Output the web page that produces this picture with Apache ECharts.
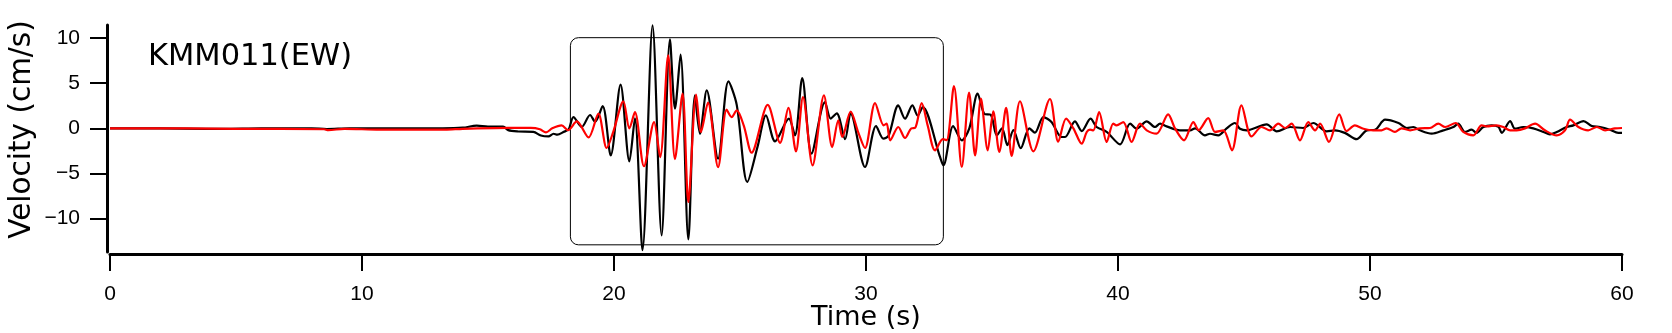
<!DOCTYPE html>
<html><head><meta charset="utf-8">
<script src="https://cdn.jsdelivr.net/npm/echarts@6/dist/echarts.min.js"></script>
<style>html,body{margin:0;padding:0;background:#fff}#c{width:1672px;height:333px}</style>
</head><body><div id="c"></div>
<script>
const titleText = 'KMM011(EW)';
const xTicks = [0, 10, 20, 30, 40, 50, 60];
const yTicks = [-10, -5, 0, 5, 10];
const boxTime = [18.25, 33.05];
const boxVel = [-12.85, 10.1];

const blackTime = [0,2,3.8,4.5,6,8,8.6,9.5,10.7,13.2,14,14.55,15,15.6,15.8,16.2,16.8,17.1,17.4,17.6,17.75,18.0,18.2,18.39,18.72,19.05,19.25,19.55,19.87,20.26,20.61,20.83,21.13,21.53,21.89,22.22,22.42,22.64,22.95,23.21,23.41,23.68,24.13,24.54,24.87,25.29,25.7,26.03,26.39,26.94,27.18,27.47,27.84,28.37,28.6,28.84,29.17,29.39,29.96,30.4,30.69,30.9,31.28,31.55,31.84,32.05,32.25,32.94,33.07,33.46,33.8,34.1,34.43,34.7,34.95,35.19,35.4,35.61,35.85,36.14,36.48,36.7,37.04,37.36,37.76,37.9,38.29,38.56,38.91,39.15,39.55,40.08,40.48,40.74,41.14,41.47,41.67,41.93,42.46,42.86,43.06,43.45,43.65,43.98,44.31,44.64,44.84,45.11,45.9,46.3,46.83,47.35,47.75,48.28,48.61,49.0,49.47,49.87,50.2,50.6,51.13,51.46,51.72,51.98,52.45,52.91,53.31,53.5,53.77,54.03,54.23,54.5,54.83,55.1,55.23,55.56,55.75,56.08,56.48,56.88,57.14,57.41,57.8,58.07,58.47,58.8,59.13,59.52,59.85,60];
const blackVel = [0,0,-0.05,-0.05,0,0,-0.08,0,0,0,0.07,0.3,0.2,0.2,-0.2,-0.35,-0.4,-0.8,-0.9,-0.6,-0.7,-0.4,-0.1,1.25,0.15,1.48,0.72,2.47,-3.0,4.84,-3.67,1.1,-13.5,11.4,-11.85,9.85,2.18,8.16,-12.3,3.65,-0.59,4.2,-3.36,5.2,2.6,-5.94,-2.0,1.44,-1.44,1.07,-0.78,5.57,-2.8,2.9,1.08,1.66,-1.2,1.66,-4.28,0.26,-1.14,-0.8,2.55,1.07,2.55,1.4,2.36,-3.2,-4.1,0.26,-1.33,0,3.84,1.6,1.5,-0.78,0,-1.85,-0.2,-2.2,0,-0.48,1.25,0.7,-0.96,-0.96,0.78,-0.3,1.07,0.15,-0.4,-1.77,0.52,-0.04,0.78,0.15,0.52,0.22,-0.22,-0.22,0,-0.78,-0.6,-0.78,0,0.59,-0.04,-0.22,0.44,-0.33,0.15,0.04,0.59,-0.33,-0.22,-0.5,-1.2,-0.22,-0.15,0.96,0.59,0.04,0.15,-0.22,-0.59,-0.22,0.15,0.52,-0.4,-0.15,-0.5,0.15,0.33,0.15,-0.5,0.81,-0.04,0.15,0,-0.4,-0.66,-0.4,0.15,0.33,0.81,0.26,0.15,-0.15,-0.5,-0.5];

const redTime = [0,3,5,8.5,8.66,9.3,10.7,13.3,14,15.8,16.7,17.06,17.3,17.55,17.92,18.18,18.52,18.99,19.38,19.71,19.97,20.37,20.61,20.83,21.19,21.59,21.83,22.15,22.42,22.72,22.95,23.26,23.45,23.73,24.13,24.47,24.67,24.87,25.15,25.46,26.1,26.59,26.92,27.22,27.5,27.88,28.33,28.66,28.9,29.06,29.39,29.7,29.96,30.36,30.7,30.82,30.96,31.28,31.55,31.8,31.95,32.21,32.45,32.74,33.05,33.2,33.49,33.8,34.09,34.33,34.56,34.83,35.05,35.29,35.56,35.78,36.11,36.64,37.3,37.63,37.94,38.23,38.56,38.76,38.89,39.02,39.25,39.55,39.81,39.94,40.21,40.54,40.87,41.14,41.53,41.99,42.26,42.62,42.99,43.2,43.58,43.85,44.18,44.52,44.9,45.3,45.7,46.03,46.36,46.63,46.89,47.22,47.55,47.82,48.02,48.37,48.78,49.07,49.4,49.74,50.13,50.46,50.66,50.99,51.25,51.59,51.98,52.38,52.71,52.98,53.4,53.7,54.1,54.43,54.63,55.02,55.29,55.56,55.82,56.15,56.55,56.94,57.41,57.74,57.94,58.27,58.66,59.0,59.33,59.72,60];
const redVel = [0,0,-0.05,-0.1,-0.2,-0.05,-0.15,-0.15,-0.05,0.05,0.05,-0.1,-0.45,0,0.33,-0.2,0.77,-1.0,1.63,-2.18,-0.4,2.99,0.0,1.8,-4.2,0.7,-3.2,8.08,-3.4,3.85,-8.16,3.73,-0.4,2.85,-4.3,2.07,1.25,2.0,0.3,-2.7,2.6,-1.6,2.26,-2.55,3.47,-4.1,3.65,-2.07,0.89,-0.96,1.85,-0.5,-2.18,2.8,0.33,0.52,-1.33,0.15,-1.07,0,0.05,2.8,0.3,-2.44,-1.2,-1.3,4.69,-4.28,3.96,-3.0,3.29,-2.44,1.88,-2.6,2.26,-3.06,3.0,-2.55,3.25,-1.48,1.07,0,-1.7,-0.4,-0.15,-0.22,1.8,-1.51,0.52,0.33,0.7,-1.5,0.52,-0.22,-0.59,1.55,0,-1.33,0.7,-0.2,1.14,-0.4,-0.22,-2.44,2.55,-0.9,0.15,-0.22,0.52,0.04,0.52,-1.33,0.7,-0.22,0.52,-1.5,1.55,-0.3,0.33,-0.04,-0.22,-0.22,0,-0.4,0,-0.22,0,0.04,0.52,0.15,0.59,-0.4,-0.78,0.33,0.22,0.33,0.15,-0.22,-0.22,0,0.52,-0.22,-0.78,-0.22,0.96,0.15,-0.22,0.15,-0.22,0,0.04];

const pair = (ts, vs) => ts.map((t, i) => [t, vs[i]]);
const minus = v => String(v).replace('-', '\u2212');

const chart = echarts.init(document.getElementById('c'), null, {renderer: 'canvas'});
chart.setOption({
  animation: false,
  backgroundColor: '#fff',
  title: {
    text: titleText, left: 143, top: 37,
    textStyle: {fontFamily: 'DejaVu Sans', fontSize: 30.5, fontWeight: 'normal', color: '#000'}
  },
  grid: {left: 110, right: 50, top: 25, bottom: 81, containLabel: false, outerBoundsMode: 'none'},
  xAxis: {
    type: 'value', min: 0, max: 60, interval: 10, offset: 2,
    name: 'Time (s)', nameLocation: 'middle', nameGap: 50, nameMoveOverlap: false,
    nameTextStyle: {fontFamily: 'DejaVu Sans', fontSize: 27, color: '#000'},
    axisLine: {show: true, onZero: false, lineStyle: {color: '#000', width: 3}},
    axisTick: {show: true, length: 17, lineStyle: {color: '#000', width: 2}},
    axisLabel: {margin: 30, fontFamily: 'Liberation Sans', fontSize: 21, color: '#000',
      customValues: xTicks},
    splitLine: {show: false}
  },
  yAxis: {
    type: 'value', min: -13.7, max: 11.45, offset: 3,
    name: 'Velocity (cm/s)', nameLocation: 'middle', nameGap: 70, nameMoveOverlap: false,
    nameTextStyle: {fontFamily: 'DejaVu Sans', fontSize: 29.5, color: '#000', padding: [0, 0, 0, 18]},
    axisLine: {show: true, onZero: false, lineStyle: {color: '#000', width: 3}},
    axisTick: {show: true, length: 17, lineStyle: {color: '#000', width: 2}, customValues: yTicks},
    axisLabel: {margin: 27, fontFamily: 'Liberation Sans', fontSize: 21, color: '#000',
      customValues: yTicks, formatter: minus},
    splitLine: {show: false}
  },
  series: [
    {type: 'line', data: pair(blackTime, blackVel), symbol: 'none', smooth: 0.3,
      lineStyle: {color: '#000', width: 2.2}, z: 3},
    {type: 'line', data: pair(redTime, redVel), symbol: 'none', smooth: 0.3,
      lineStyle: {color: '#ff0000', width: 2.2}, z: 4}
  ]
});
const p1 = chart.convertToPixel({gridIndex: 0}, [boxTime[0], boxVel[1]]);
const p2 = chart.convertToPixel({gridIndex: 0}, [boxTime[1], boxVel[0]]);
chart.setOption({
  graphic: [{
    type: 'rect', z: 1,
    shape: {x: p1[0] + 0.5, y: p1[1] + 0.5, width: p2[0] - p1[0], height: p2[1] - p1[1], r: 8},
    style: {fill: 'none', stroke: '#000', lineWidth: 1}
  }]
});
</script></body></html>
